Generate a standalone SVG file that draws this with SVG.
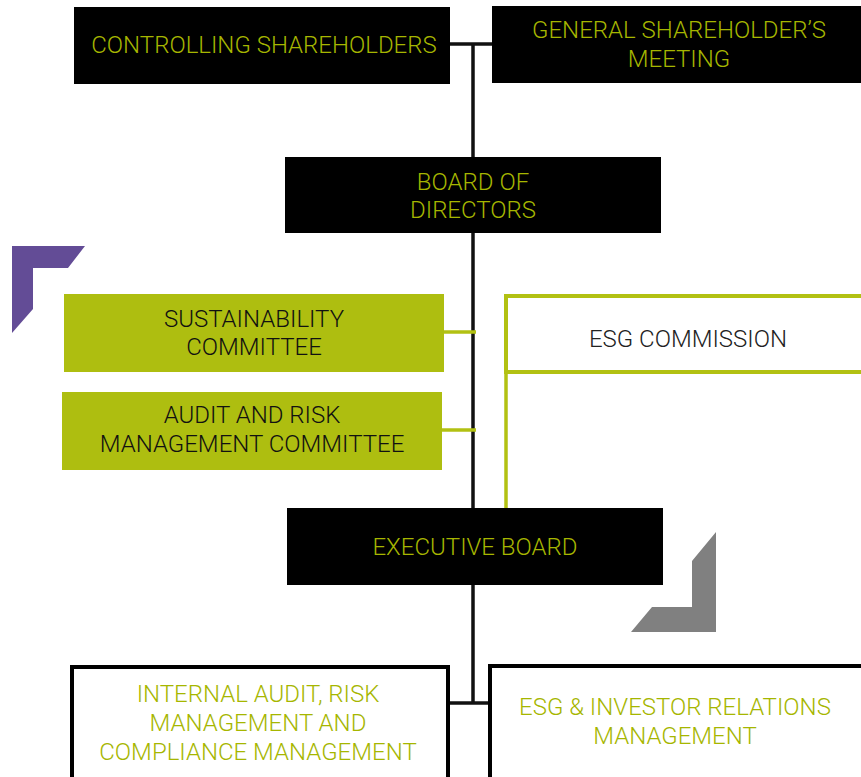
<svg xmlns="http://www.w3.org/2000/svg" width="861" height="777" viewBox="0 0 861 777">
  <style>
    .dark { fill: #000000; }
    .green { fill: #aebe10; }
    .outline { fill: #ffffff; stroke: #000000; stroke-width: 4; }
    .t { font-family: Roboto, "Liberation Sans", sans-serif; font-weight: 300; font-size: 24px; text-anchor: middle; }
    .tg { fill: #a6b600; }
    .tk { fill: #111111; }
    .line { stroke: #111111; stroke-width: 3.5; fill: none; }
    .gline { stroke: #b2c112; stroke-width: 3.5; fill: none; }
  </style>

  <!-- corner ornaments -->
  <polygon points="12,246 85,246 68,268 33,268 33,309 12,333" fill="#634c96"/>
  <polygon points="716,532 716,632 631,632 652,607 692,607 692,561" fill="#808080"/>

  <!-- connectors -->
  <g id="connectors">
    <line class="line" x1="449" y1="44" x2="492" y2="44"/>
    <line class="line" x1="473" y1="44" x2="473" y2="704"/>
    <line class="line" x1="448" y1="703" x2="490" y2="703"/>
    <line class="gline" x1="443" y1="332" x2="476" y2="332"/>
    <line class="gline" x1="441" y1="430" x2="476" y2="430"/>
    <line class="gline" x1="506" y1="372" x2="506" y2="508"/>
  </g>

  <g id="controlling-shareholders">
    <rect class="dark" x="74" y="7" width="376" height="77"/>
    <text class="t tg" x="264" y="53">CONTROLLING SHAREHOLDERS</text>
  </g>

  <g id="general-meeting">
    <rect class="dark" x="492" y="6" width="380" height="77"/>
    <text class="t tg" x="679" y="38">GENERAL SHAREHOLDER’S</text>
    <text class="t tg" x="679" y="67">MEETING</text>
  </g>

  <g id="board-of-directors">
    <rect class="dark" x="285" y="157" width="376" height="76"/>
    <text class="t tg" x="473" y="190">BOARD OF</text>
    <text class="t tg" x="473" y="218">DIRECTORS</text>
  </g>

  <g id="sustainability-committee">
    <rect class="green" x="64" y="294" width="380" height="78"/>
    <text class="t tk" x="254" y="327">SUSTAINABILITY</text>
    <text class="t tk" x="254" y="355">COMMITTEE</text>
  </g>

  <g id="audit-risk-committee">
    <rect class="green" x="62" y="392" width="380" height="78"/>
    <text class="t tk" x="252" y="423">AUDIT AND RISK</text>
    <text class="t tk" x="252" y="452">MANAGEMENT COMMITTEE</text>
  </g>

  <g id="esg-commission">
    <rect x="506" y="296" width="400" height="76" fill="#ffffff" stroke="#b2c112" stroke-width="4"/>
    <text class="t" x="688" y="347" fill="#222222">ESG COMMISSION</text>
  </g>

  <g id="executive-board">
    <rect class="dark" x="287" y="508" width="376" height="77"/>
    <text class="t tg" x="475" y="555">EXECUTIVE BOARD</text>
  </g>

  <g id="internal-audit">
    <rect class="outline" x="72" y="667" width="376" height="130"/>
    <text class="t tg" x="258" y="702">INTERNAL AUDIT, RISK</text>
    <text class="t tg" x="258" y="731">MANAGEMENT AND</text>
    <text class="t tg" x="258" y="760">COMPLIANCE MANAGEMENT</text>
  </g>

  <g id="esg-investor-relations">
    <rect class="outline" x="490" y="666" width="400" height="130"/>
    <text class="t tg" x="675" y="715">ESG &amp; INVESTOR RELATIONS</text>
    <text class="t tg" x="675" y="744">MANAGEMENT</text>
  </g>
</svg>
